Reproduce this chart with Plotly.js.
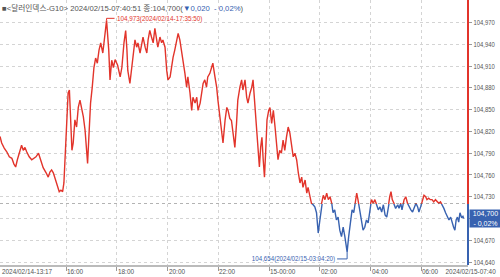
<!DOCTYPE html>
<html><head><meta charset="utf-8">
<script src="https://cdn.plot.ly/plotly-3.0.1.min.js"></script>
<style>html,body{margin:0;padding:0;background:#fff}#c{width:500px;height:277px}</style>
</head><body><div id="c"></div>
<script>
// ---- data ----
const clock = ['13:24','13:28','13:34','13:40','13:46','13:52','13:57','14:01','14:05','14:10','14:15','14:19','14:23','14:27','14:33','14:39','14:43','14:49','14:55','14:59','15:03','15:06','15:13','15:18','15:22','15:26','15:30','15:34','15:40','15:44','15:48','15:52','15:55','15:58',
'16:02','16:05','16:08','16:11','16:14','16:17','16:21','16:25','16:29','16:33','16:37','16:41','16:45','16:49','16:51','16:54','16:58','17:02','17:06','17:10','17:14','17:18','17:22','17:27','17:30','17:33','17:35:50','17:41','17:44','17:48','17:52','17:56',
'18:02','18:08','18:12','18:17','18:21','18:24','18:26','18:31','18:35','18:38','18:43','18:47','18:50','18:55','18:59','19:02','19:07','19:11','19:14','19:18','19:22','19:26','19:30','19:34','19:37','19:42','19:46','19:49','19:54','19:58',
'20:01','20:06','20:10','20:13','20:17','20:21','20:25','20:29','20:33','20:36','20:41','20:45','20:48','20:53','20:57','21:00','21:05','21:09','21:12','21:17','21:21','21:24','21:28','21:32','21:35','21:40','21:44','21:47','21:52','21:56','21:59',
'22:04','22:08','22:11','22:16','22:20','22:23','22:27','22:31','22:34','22:39','22:43','22:46','22:51','22:55','22:58','23:03','23:07','23:10','23:15','23:19','23:22','23:26','23:30','23:33','23:37','23:40','23:43','23:46','23:49','23:52','23:55','23:59',
'00:02','00:06','00:10','00:14','00:18','00:21','00:25','00:29','00:33','00:37','00:41','00:45','00:49','00:53','00:57','01:01','01:05','01:09','01:13','01:17','01:20','01:25','01:29','01:32','01:36','01:40','01:44','01:48','01:52','01:56','02:00',
'02:04','02:08','02:12','02:16','02:20','02:24','02:28','02:31','02:35','02:39','02:43','02:47','02:51','02:55','02:59','03:02','03:04:20','03:08','03:13','03:16','03:20','03:24','03:27','03:30','03:34','03:38','03:42','03:46','03:50','03:54','03:58',
'04:02','04:06','04:10','04:14','04:18','04:22','04:26','04:30','04:34','04:38','04:41','04:45','04:48','04:51','04:55','04:59','05:04','05:07','05:11','05:14','05:19','05:23','05:27','05:31','05:35','05:39','05:43','05:47','05:51','05:54','05:58',
'06:02','06:06','06:10','06:13','06:17','06:21','06:25','06:29','06:33','06:37','06:41','06:45','06:49','06:53','06:57','07:01','07:05','07:09','07:12','07:16','07:19','07:22','07:25','07:28','07:31','07:35','07:38','07:40'];

const price = [104.813,104.804,104.797,104.792,104.785,104.783,104.775,104.771,104.781,104.790,104.801,104.794,104.798,104.792,104.785,104.781,104.783,104.785,104.790,104.783,104.774,104.770,104.763,104.757,104.764,104.767,104.763,104.756,104.743,104.737,104.739,104.737,104.749,104.785,
104.840,104.873,104.877,104.836,104.794,104.804,104.836,104.826,104.853,104.863,104.853,104.840,104.822,104.790,104.776,104.812,104.859,104.881,104.908,104.921,104.914,104.932,104.942,104.928,104.946,104.962,104.973,104.932,104.891,104.918,104.908,104.919,
104.911,104.895,104.908,104.942,104.959,104.932,104.904,104.886,104.908,104.928,104.946,104.936,104.942,104.928,104.942,104.950,104.936,104.928,104.946,104.959,104.950,104.942,104.962,104.946,104.936,104.950,104.942,104.946,104.936,104.904,
104.891,104.895,104.914,104.922,104.932,104.942,104.955,104.946,104.932,104.918,104.900,104.881,104.895,104.873,104.849,104.867,104.859,104.867,104.849,104.859,104.877,104.886,104.891,104.881,104.895,104.900,104.908,104.914,104.895,104.881,104.863,
104.836,104.822,104.804,104.836,104.853,104.849,104.838,104.835,104.818,104.798,104.831,104.863,104.881,104.891,104.877,104.891,104.867,104.859,104.873,104.881,104.891,104.859,104.826,104.798,104.771,104.798,104.812,104.781,104.757,104.794,104.836,104.849,
104.853,104.831,104.849,104.826,104.798,104.781,104.794,104.790,104.808,104.794,104.812,104.826,104.818,104.798,104.785,104.790,104.781,104.763,104.749,104.757,104.743,104.753,104.735,104.743,104.730,104.721,104.719,104.716,104.708,104.680,104.698,
104.721,104.732,104.726,104.735,104.726,104.730,104.721,104.708,104.712,104.698,104.702,104.684,104.675,104.688,104.675,104.664,104.654,104.675,104.702,104.712,104.708,104.721,104.735,104.726,104.712,104.698,104.684,104.688,104.698,104.694,104.716,
104.726,104.721,104.726,104.719,104.712,104.716,104.709,104.719,104.705,104.702,104.716,104.730,104.737,104.726,104.721,104.714,104.719,104.714,104.721,104.712,104.726,104.730,104.721,104.716,104.712,104.709,104.714,104.721,104.716,104.709,104.716,
104.726,104.732,104.730,104.726,104.728,104.726,104.726,104.723,104.726,104.723,104.721,104.723,104.719,104.714,104.708,104.702,104.698,104.702,104.694,104.688,104.684,104.698,104.702,104.695,104.708,104.701,104.703,104.700];

const prevClose = 104.720;
const lastPrice = 104.700;
const lastChange = '- 0,02%';
const yTicks = [104.640,104.670,104.700,104.730,104.760,104.790,104.820,104.850,104.880,104.910,104.940,104.970];
const xTickClock = ['16:00','18:00','20:00','22:00','00:00','02:00','04:00','06:00'];
const xTickLabels = ['16:00','18:00','20:00','22:00','15-00:00','02:00','04:00','06:00'];
const startLabel = '2024/02/14-13:17';
const endLabel = '2024/02/15-07:40';
const headerText = '■&lt;달러인덱스-G10&gt; 2024/02/15-07:40:51 종:104,700(<span style="color:#3560b0">▼0,020  - 0,02%</span>)';

// ---- drawing ----
const RED = '#e2342b', BLUE = '#3862b0';
const FONT = '"Liberation Sans","Noto Sans CJK KR",sans-serif';
const toDate = c => (parseInt(c.slice(0,2),10) >= 12 ? '2024-02-14 ' : '2024-02-15 ') + (c.length === 5 ? c + ':00' : c);
const times = clock.map(toDate);
const yMin = 104.636, yMax = 105.001;
const f = (prevClose - yMin) / (yMax - yMin);
const fmt = v => v.toFixed(3).replace('.', ',');
const stamp = t => t.replace(/-/g, '/').replace(' ', '-');

let iMax = 0, iMin = 0;
price.forEach((v, i) => { if (v > price[iMax]) iMax = i; if (v < price[iMin]) iMin = i; });
const maxLabel = fmt(price[iMax]) + '(' + stamp(times[iMax]) + ')';
const minLabel = fmt(price[iMin]) + '(' + stamp(times[iMin]) + ')';

const tickFont = {family: FONT, size: 8, color: '#555'};
const yCommon = {
  side: 'right', anchor: 'x', tickmode: 'array',
  showgrid: true, gridcolor: '#d4d4d4', griddash: 'dot', gridwidth: 1,
  ticks: 'outside', ticklen: 3, tickcolor: '#999', tickfont: {family: FONT, size: 7.2, color: '#555'},
  zeroline: false, showline: false, fixedrange: true
};
// the last-price box sits on top of its own tick label, so that label is left blank
const yTickText = v => (Math.abs(v - lastPrice) < 1e-9 ? '' : fmt(v));
const upperTicks = yTicks.filter(v => v > prevClose);
const lowerTicks = yTicks.filter(v => v < prevClose);

const traces = [
  {x: times, y: price, type: 'scatter', mode: 'lines', xaxis: 'x', yaxis: 'y',
   line: {color: RED, width: 1.4}, hoverinfo: 'skip'},
  {x: times, y: price, type: 'scatter', mode: 'lines', xaxis: 'x', yaxis: 'y2',
   line: {color: BLUE, width: 1.4}, hoverinfo: 'skip'}
];

const annotations = [
  {name: 'header', xref: 'paper', yref: 'paper', x: 0, y: 1, xanchor: 'left', yanchor: 'top', yshift: -1, align: 'left',
   showarrow: false, text: headerText, font: {family: FONT, size: 7.7, color: '#555'}},
  {name: 'max', xref: 'x', yref: 'y', x: times[iMax], y: price[iMax], xanchor: 'left', yanchor: 'middle', align: 'left',
   xshift: 8, yshift: 2, showarrow: false, text: maxLabel, font: {family: FONT, size: 8, color: RED}},
  {name: 'min', xref: 'x', yref: 'y2', x: times[iMin], y: price[iMin], xanchor: 'right', yanchor: 'middle', align: 'right',
   xshift: -10, yshift: -7, showarrow: false, text: minLabel, font: {family: FONT, size: 8, color: BLUE}},
  {name: 'box', xref: 'paper', yref: 'y2', x: 1, y: lastPrice, xanchor: 'left', yanchor: 'middle', xshift: 1,
   showarrow: false, text: fmt(lastPrice) + '<br>' + lastChange, bgcolor: BLUE, borderpad: 0,
   width: 31, height: 17, align: 'center', font: {family: FONT, size: 7, color: '#fff'}},
  {name: 'x', xref: 'paper', yref: 'paper', x: 0, y: 0, xanchor: 'left', yanchor: 'top', yshift: 0, align: 'left',
   showarrow: false, text: startLabel, font: tickFont},
  {name: 'x', xref: 'paper', yref: 'paper', x: 1, y: 0, xanchor: 'right', yanchor: 'top', yshift: 0, xshift: 30, align: 'right',
   showarrow: false, text: endLabel, font: tickFont}
];
xTickClock.forEach((c, i) => annotations.push({
  name: 'x', xref: 'x', yref: 'paper', x: toDate(c), y: 0, xanchor: 'left', yanchor: 'top', yshift: 0, xshift: -1, align: 'left',
  showarrow: false, text: xTickLabels[i], font: tickFont
}));

const shapes = [
  {type: 'line', xref: 'paper', yref: 'y', x0: 0, x1: 1, y0: prevClose, y1: prevClose,
   line: {color: '#666', width: 1, dash: 'dot'}, layer: 'above'},
  {type: 'line', xref: 'paper', yref: 'y domain', x0: 1, x1: 1, y0: 0, y1: 1,
   line: {color: RED, width: 2}, layer: 'above'},
  {type: 'line', xref: 'paper', yref: 'y2 domain', x0: 1, x1: 1, y0: 0, y1: 1,
   line: {color: BLUE, width: 2}, layer: 'above'},
  {type: 'path', xref: 'x', yref: 'y', xsizemode: 'pixel', ysizemode: 'pixel',
   xanchor: times[iMax], yanchor: price[iMax], path: 'M0,0L0,2L8,2', line: {color: RED, width: 1}},
  {type: 'path', xref: 'x', yref: 'y2', xsizemode: 'pixel', ysizemode: 'pixel',
   xanchor: times[iMin], yanchor: price[iMin], path: 'M0,0L0,-7L-10,-7', line: {color: BLUE, width: 1}}
];

const layout = {
  width: 500, height: 277,
  margin: {l: 0, r: 32, t: 0, b: 12, pad: 0},
  paper_bgcolor: '#fff', plot_bgcolor: '#fff',
  showlegend: false,
  xaxis: {type: 'date', anchor: 'y2', range: ['2024-02-14 13:24:00', '2024-02-15 07:50:00'],
    tickmode: 'array', tickvals: xTickClock.map(toDate), showticklabels: false,
    ticks: 'outside', ticklen: 4, tickcolor: '#999',
    showgrid: true, gridcolor: '#d4d4d4', griddash: 'dot', gridwidth: 1,
    showline: true, linecolor: '#bbb', linewidth: 2, zeroline: false, fixedrange: true},
  yaxis: Object.assign({}, yCommon, {domain: [f, 1], range: [prevClose, yMax],
    tickvals: upperTicks, ticktext: upperTicks.map(yTickText)}),
  yaxis2: Object.assign({}, yCommon, {domain: [0, f], range: [yMin, prevClose],
    tickvals: lowerTicks, ticktext: lowerTicks.map(yTickText)}),
  annotations: annotations,
  shapes: shapes
};

// condense text horizontally (the reference uses a narrow font)
function squeeze(el, k) {
  const L = el.getComputedTextLength();
  if (L > 0) {
    el.setAttribute('textLength', (L * k).toFixed(2));
    el.setAttribute('lengthAdjust', 'spacingAndGlyphs');
  }
}

Plotly.newPlot('c', traces, layout, {staticPlot: true, displayModeBar: false}).then(gd => {
  gd.querySelectorAll('.ytick text, .y2tick text').forEach(t => squeeze(t, 0.82));
  const factors = {max: 0.79, min: 0.77, x: 0.8};
  gd.querySelectorAll('g.annotation').forEach((g, i) => {
    const a = layout.annotations[i];
    const t = g.querySelector('text.annotation-text');
    if (a && t && factors[a.name]) squeeze(t, factors[a.name]);
  });
});
</script>
</body></html>
